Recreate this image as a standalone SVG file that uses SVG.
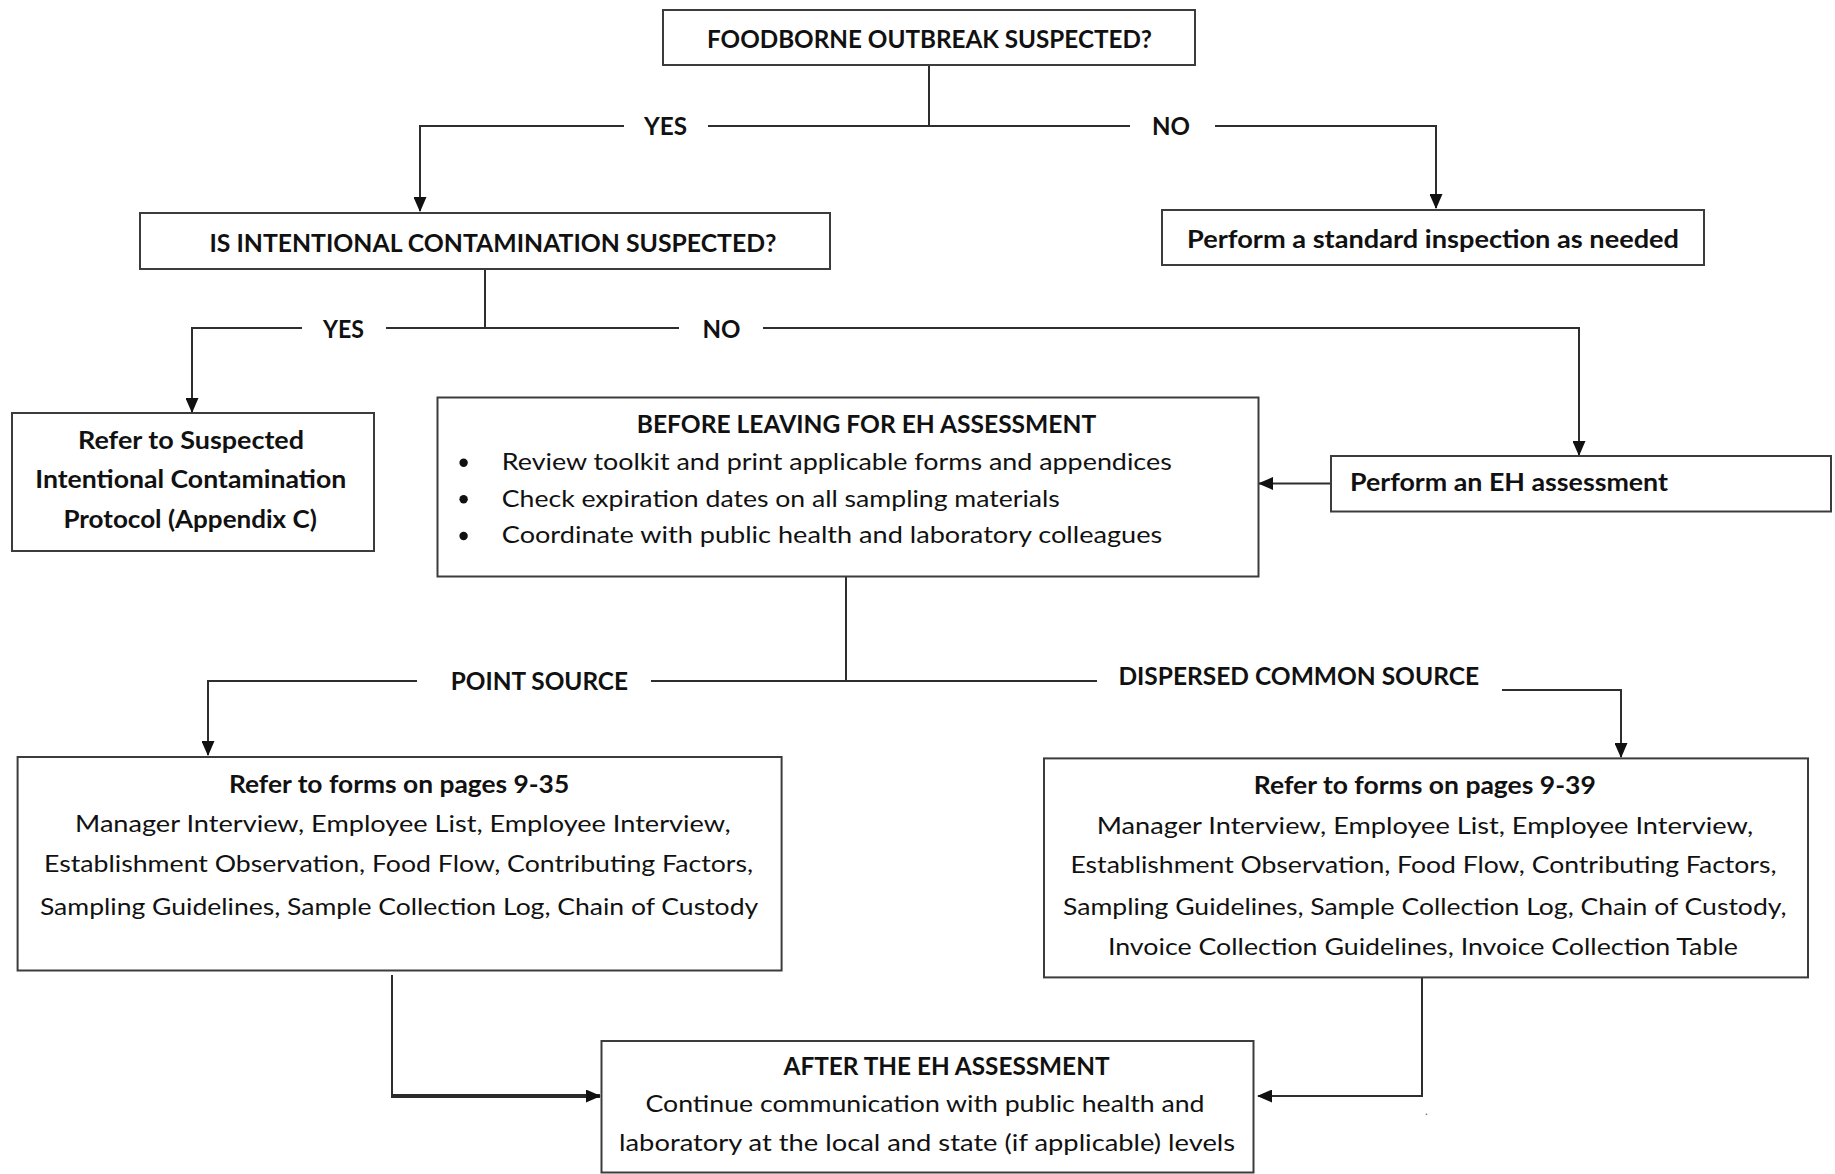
<svg xmlns="http://www.w3.org/2000/svg" width="1835" height="1174" viewBox="0 0 1835 1174">
<style>
  .box { fill: #ffffff; stroke: #3c3c3c; stroke-width: 2; }
  .ln { fill: none; stroke: #2e2e2e; stroke-width: 2; }
  .thick { fill: none; stroke: #2a2a2a; stroke-width: 4; }
  text { font-family: Lato, "Open Sans", "Liberation Sans", sans-serif; fill: #111111; }
  .b { font-weight: 700; font-size: 25px; }
  .r { font-weight: 400; font-size: 24px; }
  .bul { fill: #111111; }
</style>
<defs>
  <marker id="arr" markerUnits="userSpaceOnUse" markerWidth="15" markerHeight="13" refX="14" refY="6.5" orient="auto">
    <path d="M0,0 L15,6.5 L0,13 z" fill="#111111"/>
  </marker>
</defs>
<rect width="1835" height="1174" fill="#ffffff"/>

<g id="connectors">
  <path class="ln" d="M929,65 V126 H708"/>
  <path class="ln" marker-end="url(#arr)" d="M624,126 H420 V211"/>
  <path class="ln" d="M929,126 H1130"/>
  <path class="ln" marker-end="url(#arr)" d="M1215,126 H1436 V208"/>
  <path class="ln" d="M485,269 V328 H386"/>
  <path class="ln" marker-end="url(#arr)" d="M302,328 H192 V412"/>
  <path class="ln" d="M485,328 H679"/>
  <path class="ln" marker-end="url(#arr)" d="M763,328 H1579 V455"/>
  <path class="ln" marker-end="url(#arr)" d="M1331,483.5 H1259"/>
  <path class="ln" d="M846,577 V681 H651"/>
  <path class="ln" marker-end="url(#arr)" d="M417,681 H208 V755"/>
  <path class="ln" d="M846,681 H1097"/>
  <path class="ln" marker-end="url(#arr)" d="M1502,690 H1621 V757"/>
  <path class="ln" d="M392,975 V1096"/>
  <path class="thick" marker-end="url(#arr)" d="M391,1096 H600"/>
  <path class="ln" marker-end="url(#arr)" d="M1422,978 V1096 H1258"/>
</g>

<g id="n-outbreak">
  <rect class="box" x="663" y="10" width="532" height="55"/>
  <text class="b" x="707" y="47.5" textLength="445" lengthAdjust="spacingAndGlyphs">FOODBORNE OUTBREAK SUSPECTED?</text>
</g>
<g id="l-yes1"><text class="b" x="644" y="135" textLength="43" lengthAdjust="spacingAndGlyphs">YES</text></g>
<g id="l-no1"><text class="b" x="1152" y="135" textLength="38" lengthAdjust="spacingAndGlyphs">NO</text></g>

<g id="n-standard">
  <rect class="box" x="1162" y="210" width="542" height="55"/>
  <text class="b" x="1187" y="248.3" textLength="492" lengthAdjust="spacingAndGlyphs">Perform a standard inspection as needed</text>
</g>

<g id="n-intentional">
  <rect class="box" x="140" y="213" width="690" height="56"/>
  <text class="b" x="209.5" y="252.3" textLength="567" lengthAdjust="spacingAndGlyphs">IS INTENTIONAL CONTAMINATION SUSPECTED?</text>
</g>
<g id="l-yes2"><text class="b" x="323" y="338.3" textLength="41" lengthAdjust="spacingAndGlyphs">YES</text></g>
<g id="l-no2"><text class="b" x="702.5" y="338.3" textLength="38" lengthAdjust="spacingAndGlyphs">NO</text></g>

<g id="n-protocol">
  <rect class="box" x="12" y="413" width="362" height="138"/>
  <text class="b" x="78" y="449" textLength="226" lengthAdjust="spacingAndGlyphs">Refer to Suspected</text>
  <text class="b" x="35.2" y="488.3" textLength="311" lengthAdjust="spacingAndGlyphs">Intentional Contamination</text>
  <text class="b" x="63.4" y="528.3" textLength="253.5" lengthAdjust="spacingAndGlyphs">Protocol (Appendix C)</text>
</g>

<g id="n-before">
  <rect class="box" x="437.5" y="397.5" width="821" height="179"/>
  <text class="b" x="636.7" y="433.3" textLength="459.5" lengthAdjust="spacingAndGlyphs">BEFORE LEAVING FOR EH ASSESSMENT</text>
  <circle class="bul" cx="463.6" cy="462.7" r="4.2"/>
  <circle class="bul" cx="463.6" cy="499.3" r="4.2"/>
  <circle class="bul" cx="463.6" cy="536" r="4.2"/>
  <text class="r" x="501.8" y="470" textLength="670" lengthAdjust="spacingAndGlyphs">Review toolkit and print applicable forms and appendices</text>
  <text class="r" x="501.8" y="506.7" textLength="558" lengthAdjust="spacingAndGlyphs">Check expiration dates on all sampling materials</text>
  <text class="r" x="501.8" y="543.3" textLength="660.4" lengthAdjust="spacingAndGlyphs">Coordinate with public health and laboratory colleagues</text>
</g>

<g id="n-eh">
  <rect class="box" x="1331" y="456" width="500" height="55.5"/>
  <text class="b" x="1350" y="491" textLength="318" lengthAdjust="spacingAndGlyphs">Perform an EH assessment</text>
</g>

<g id="l-point"><text class="b" x="450.7" y="690" textLength="177.3" lengthAdjust="spacingAndGlyphs">POINT SOURCE</text></g>
<g id="l-dispersed"><text class="b" x="1118.4" y="685" textLength="360.6" lengthAdjust="spacingAndGlyphs">DISPERSED COMMON SOURCE</text></g>

<g id="n-forms35">
  <rect class="box" x="17.6" y="757" width="764" height="213.5"/>
  <text class="b" x="228.9" y="793.3" textLength="340.3" lengthAdjust="spacingAndGlyphs">Refer to forms on pages 9-35</text>
  <text class="r" x="75.1" y="831.7" textLength="655.5" lengthAdjust="spacingAndGlyphs">Manager Interview, Employee List, Employee Interview,</text>
  <text class="r" x="44" y="871.7" textLength="709" lengthAdjust="spacingAndGlyphs">Establishment Observation, Food Flow, Contributing Factors,</text>
  <text class="r" x="39.9" y="915" textLength="718.3" lengthAdjust="spacingAndGlyphs">Sampling Guidelines, Sample Collection Log, Chain of Custody</text>
</g>

<g id="n-forms39">
  <rect class="box" x="1044" y="758.4" width="764" height="219"/>
  <text class="b" x="1253.8" y="794.3" textLength="342" lengthAdjust="spacingAndGlyphs">Refer to forms on pages 9-39</text>
  <text class="r" x="1096.8" y="834" textLength="656.5" lengthAdjust="spacingAndGlyphs">Manager Interview, Employee List, Employee Interview,</text>
  <text class="r" x="1070.5" y="873.3" textLength="706" lengthAdjust="spacingAndGlyphs">Establishment Observation, Food Flow, Contributing Factors,</text>
  <text class="r" x="1063" y="915" textLength="723.5" lengthAdjust="spacingAndGlyphs">Sampling Guidelines, Sample Collection Log, Chain of Custody,</text>
  <text class="r" x="1107.9" y="955" textLength="630" lengthAdjust="spacingAndGlyphs">Invoice Collection Guidelines, Invoice Collection Table</text>
</g>

<g id="n-after">
  <rect class="box" x="601.5" y="1041" width="652" height="131.5"/>
  <text class="b" x="783.5" y="1075" textLength="326" lengthAdjust="spacingAndGlyphs">AFTER THE EH ASSESSMENT</text>
  <text class="r" x="645.5" y="1111.7" textLength="559" lengthAdjust="spacingAndGlyphs">Continue communication with public health and</text>
  <text class="r" x="619.1" y="1150.7" textLength="616" lengthAdjust="spacingAndGlyphs">laboratory at the local and state (if applicable) levels</text>
</g>

<g id="stray-dot"><text x="1425" y="1115" style="font-size:12px;fill:#666666;font-family:Lato, sans-serif">.</text></g>
</svg>
